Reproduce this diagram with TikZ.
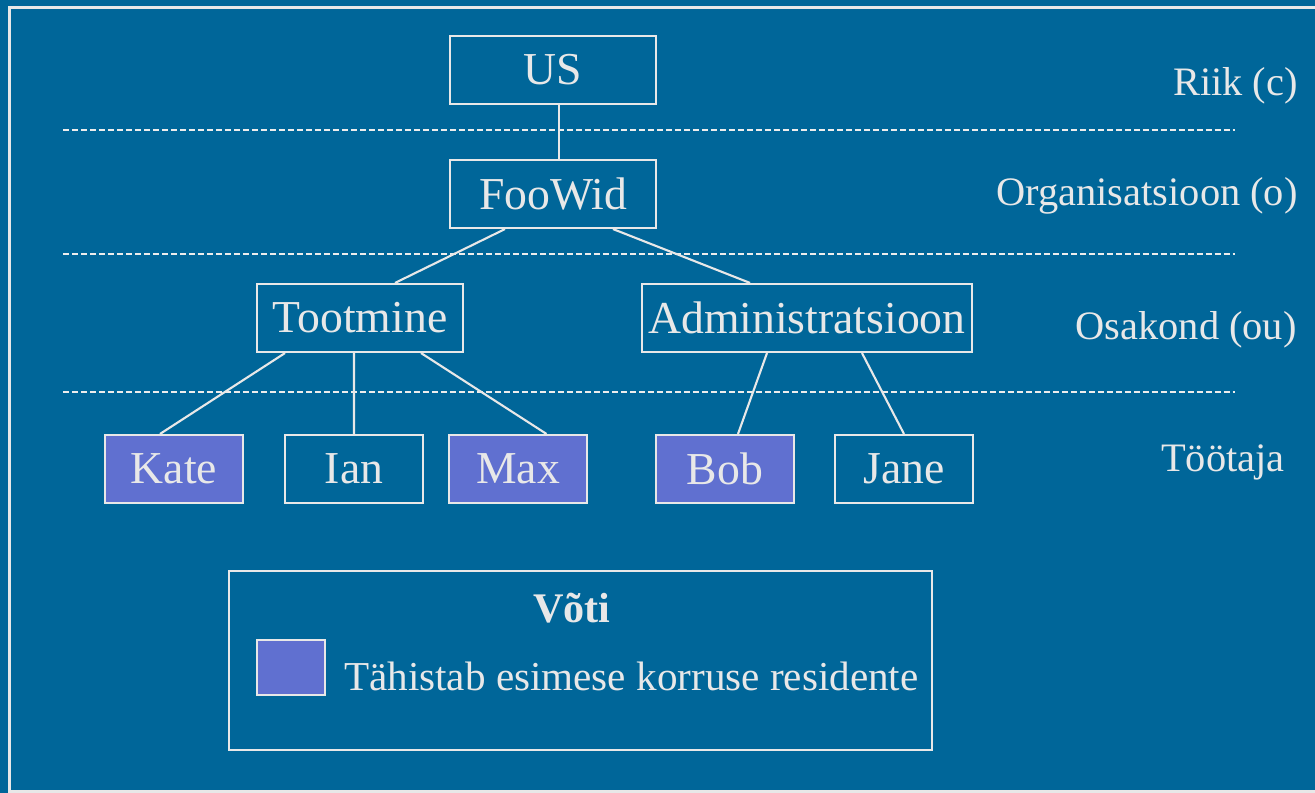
\documentclass[tikz,border=0pt]{standalone}
\usepackage{fontspec}
\setmainfont{Liberation Serif}
\usetikzlibrary{positioning}

\definecolor{slideblue}{RGB}{0,102,153}
\definecolor{firstfloor}{RGB}{96,112,208}
\definecolor{chalk}{RGB}{232,232,232}

\begin{document}
\begin{tikzpicture}[
            x=0.02cm, y=-0.02cm,
            every node/.style={ text=chalk, font=\fontsize{26}{30}\selectfont },
            box/.style={ draw=chalk, line width=1.2pt, minimum height=1.36cm, inner sep=0pt },
            wide/.style={ box, minimum width=4.12cm },
            worker/.style={ box, minimum width=2.76cm },
            resident/.style={ worker, fill=firstfloor },
            level/.style={ anchor=east, inner sep=0pt, font=\fontsize{23}{27}\selectfont },
            sep/.style={ draw=chalk!80, line width=0.6pt, dash pattern=on 0.12cm off 0.06cm },
            link/.style={ draw=chalk, line width=1.2pt }
        ]

        \useasboundingbox[fill=slideblue] (0,0) rectangle (1315,793);
        \draw[chalk, line width=1.8pt] (9.5,7.5) rectangle (1330,791.5);

        % levels
        \draw[sep] (63,130) -- (1235,130);
        \draw[sep] (63,254) -- (1235,254);
        \draw[sep] (63,392) -- (1235,392);

        \node[level] (riik) at (1298,86) {Riik (c)};
        \node[level] (org)  at (1298,196) {Organisatsioon (o)};
        \node[level] (osak) at (1297,330) {Osakond (ou)};
        \node[level] (tootaja) at (1285,462) {Töötaja};

        % tree
        \node[wide] (us) at (553,70) {US};
        \node[wide] (foowid) at (553,194) {FooWid};
        \node[wide] (tootmine) at (360,318) {Tootmine};
        \node[box, minimum width=6.6cm] (admin) at (807,318) {Administratsioon};

        \node[resident] (kate) at (174,469) {Kate};
        \node[worker]   (ian)  at (354,469) {Ian};
        \node[resident] (max)  at (518,469) {Max};
        \node[resident] (bob)  at (725,469) {Bob};
        \node[worker]   (jane) at (904,469) {Jane};

        \draw[link] ([xshift=0.12cm]us.south) -- ([xshift=0.12cm]foowid.north);
        \draw[link] ([xshift=-0.96cm]foowid.south) -- ([xshift=0.7cm]tootmine.north);
        \draw[link] ([xshift=1.2cm]foowid.south) -- ([xshift=-1.14cm]admin.north);
        \draw[link] ([xshift=-1.5cm]tootmine.south) -- ([xshift=-0.28cm]kate.north);
        \draw[link] ([xshift=-0.12cm]tootmine.south) -- (ian.north);
        \draw[link] ([xshift=1.22cm]tootmine.south) -- ([xshift=0.57cm]max.north);
        \draw[link] ([xshift=-0.8cm]admin.south) -- ([xshift=0.26cm]bob.north);
        \draw[link] ([xshift=1.1cm]admin.south) -- (jane.north);

        % key
        \node[draw=chalk, line width=1.2pt, minimum width=14.06cm, minimum height=3.58cm] (key) at (580.5,660.5) {};
        \node[font=\fontsize{24}{28}\selectfont\bfseries] (voti) at (572,608) {Võti};
        \node[draw=chalk, line width=1.2pt, fill=firstfloor, minimum width=1.36cm, minimum height=1.1cm] (swatch) at (291,667.5) {};
        \node[font=\fontsize{23.4}{28}\selectfont, anchor=west] (keytext) at (338,676) {Tähistab esimese korruse residente};
    \end{tikzpicture}
\end{document}
